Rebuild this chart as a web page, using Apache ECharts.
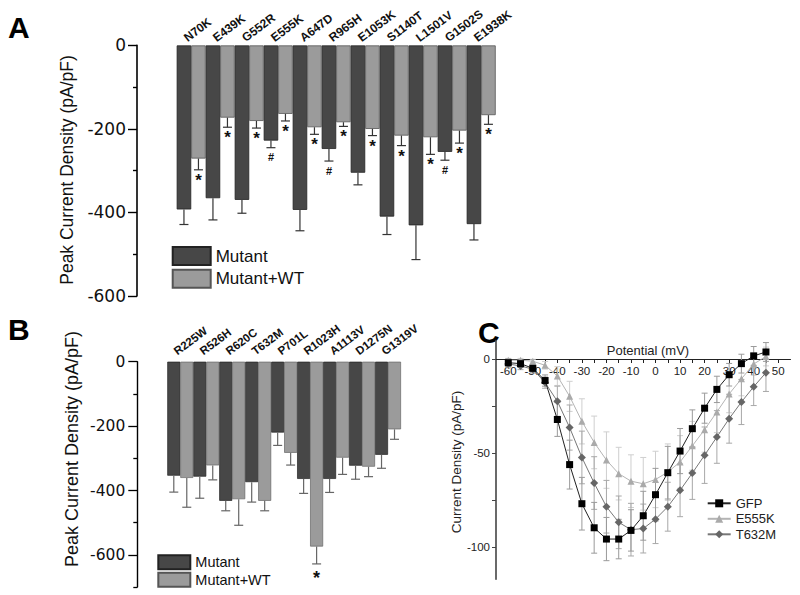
<!DOCTYPE html>
<html><head><meta charset="utf-8">
<script src="https://cdn.jsdelivr.net/npm/echarts@6/dist/echarts.min.js"></script>
<style>html,body{margin:0;padding:0;background:#fff}#c{width:800px;height:595px}</style>
</head><body><div id="c"></div><script>
// ---- Panel A ----
const catA = ['N70K','E439K','G552R','E555K','A647D','R965H','E1053K','S1140T','L1501V','G1502S','E1938K'];
const mutA = [-393,-366,-370,-228,-394,-248,-305,-410,-431,-255,-428];
const mutErrA = [36,52,32,17,50,29,29,43,82,20,38];
const wtA = [-271,-173,-181,-164,-196,-184,-200,-216,-220,-204,-167];
const wtErrA = [27,23,17,17,17,10,16,24,41,30,22];
const mutSigA = ['','','','#','','#','','','','#',''];
const wtSigA = ['*','*','*','*','*','*','*','*','*','*','*'];

// ---- Panel B ----
const catB = ['R225W','R526H','R620C','T632M','P701L','R1023H','A1113V','D1275N','G1319V'];
const mutB = [-354,-357,-432,-374,-220,-364,-364,-323,-289];
const mutErrB = [51,67,31,62,40,45,42,42,42];
const wtB = [-361,-322,-427,-432,-283,-574,-298,-326,-210];
const wtErrB = [91,45,81,31,38,54,52,31,31];
const mutSigB = ['','','','','','','','',''];
const wtSigB = ['','','','','','*','','',''];
const labelTicksB = [0,-200,-400,-600];
const minorTicksB = [-100,-300,-500,-700];

// ---- Panel C ----
const voltC = [-60,-55,-50,-45,-40,-35,-30,-25,-20,-15,-10,-5,0,5,10,15,20,25,30,35,40,45];
const gfpC = [-1.8,-2.3,-4.8,-11.3,-32,-56,-76.8,-89.6,-95.6,-95.6,-91,-83.2,-72,-60.3,-48.8,-36.9,-26,-16,-8.2,-2.3,1.8,3.9];
const gfpErrC = [2,2,2,3,9,13,14,13.5,11.5,10.5,11,13,14,14,12,10,8,7,6,5,5,5];
const e555kC = [-0.5,-0.5,-1,-3.2,-8.9,-19.7,-33,-44.2,-53.6,-60.8,-64.8,-66.2,-63.9,-60,-54.6,-46,-37.4,-28,-18.4,-10.4,-2.5,1.5];
const e555kErrC = [1,1,1,2,5,8,12,14,15,14,14,14,15,15,14,13,12,11,10,9,6,5];
const t632mC = [-2.5,-3.5,-5.3,-12.4,-22.3,-36.3,-52.2,-65.8,-78.4,-86.7,-90.6,-90,-85,-78.4,-69.7,-60.5,-51,-41.3,-31.6,-22.7,-14.6,-7.1];
const t632mErrC = [2,2,2,3,8,12,14,14,14,14,14,13,13,13,14,14,15,14,13,12,10,10];
const xTicksC = [-60,-55,-50,-45,-40,-35,-30,-25,-20,-15,-10,-5,0,5,10,15,20,25,30,35,40,45,50];
const xLabelsC = [-60,-50,-40,-30,-20,-10,0,10,20,30,40,50];
const yTicksC = [0,-25,-50,-75,-100];
const yLabelsC = [0,-50,-100];

const DARK = '#474747', LIGHT = '#9b9b9b';
const SANS = 'Liberation Sans, Arial, sans-serif';

function pairRows(mut, mutErr, wt, wtErr) {
  const rows = [];
  for (let i = 0; i < mut.length; i++) {
    rows.push([i, mut[i], mutErr[i], 0]);
    rows.push([i, wt[i], wtErr[i], 1]);
  }
  return rows;
}
function pairSigs(a, b) { const s = []; for (let i = 0; i < a.length; i++) { s.push(a[i]); s.push(b[i]); } return s; }

function makeBarErr(sigs, color, capW, sigFonts, sigGaps) {
  return function (params, api) {
    const i = api.value(0), v = api.value(1), e = api.value(2), side = api.value(3);
    const bw = api.size([1, 0])[0];
    const p = api.coord([i, v]);
    const x = p[0] + (side === 0 ? -bw / 4 : bw / 4);
    const y0 = p[1];
    const y1 = api.coord([i, v - e])[1];
    const children = [
      {type: 'line', shape: {x1: x, y1: y0, x2: x, y2: y1}, style: {stroke: color, lineWidth: 1.2}},
      {type: 'line', shape: {x1: x - capW / 2, y1: y1, x2: x + capW / 2, y2: y1}, style: {stroke: color, lineWidth: 1.2}}
    ];
    const s = sigs[params.dataIndex];
    if (s) {
      children.push({type: 'text', x: x, y: y1 + (s === '#' ? sigGaps[1] : sigGaps[0]),
        style: {text: s, fill: '#111', font: (s === '#' ? sigFonts[1] : sigFonts[0]),
          textAlign: 'center', textVerticalAlign: 'top', align: 'center', verticalAlign: 'top'}});
    }
    return {type: 'group', children: children};
  };
}

// category names written above the left (Mutant) bar of each pair, rotated
function makeCatLabels(cats, font, lift, shift) {
  return function (params, api) {
    const i = api.value(0);
    const bw = api.size([1, 0])[0];
    const p = api.coord([i, 0]);
    return {type: 'text', x: p[0] - bw / 4 + shift, y: p[1] - lift, rotation: 37 * Math.PI / 180,
      style: {text: cats[params.dataIndex], fill: '#111', font: font,
        textAlign: 'left', textVerticalAlign: 'bottom', align: 'left', verticalAlign: 'bottom'}};
  };
}

function makeLineErr(color) {
  return function (params, api) {
    const x = api.value(0), y = api.value(1), e = api.value(2);
    const t = api.coord([x, y + e]), b = api.coord([x, y - e]);
    const cw = 3;
    return {type: 'group', children: [
      {type: 'line', shape: {x1: t[0], y1: t[1], x2: b[0], y2: b[1]}, style: {stroke: color, lineWidth: 1}},
      {type: 'line', shape: {x1: t[0] - cw, y1: t[1], x2: t[0] + cw, y2: t[1]}, style: {stroke: color, lineWidth: 1}},
      {type: 'line', shape: {x1: b[0] - cw, y1: b[1], x2: b[0] + cw, y2: b[1]}, style: {stroke: color, lineWidth: 1}}
    ]};
  };
}
function errRows(xs, ys, es) { return xs.map((x, i) => [x, ys[i], es[i]]); }
function ptRows(xs, ys) { return xs.map((x, i) => [x, ys[i]]); }

const hiddenCat = (grid, data) => ({type: 'category', gridIndex: grid, position: 'top', data: data,
  axisLine: {show: false}, axisTick: {show: false}, axisLabel: {show: false}, splitLine: {show: false}});

const chart = echarts.init(document.getElementById('c'), null, {renderer: 'svg'});
const option = {
  animation: false,
  backgroundColor: '#fff',
  grid: [
    {left: 176.7, top: 45.4, width: 319, height: 250.5},
    {left: 167.3, top: 361.7, width: 233.7, height: 225.4},
    {left: 496, top: 340.5, width: 294.5, height: 238.8}
  ],
  xAxis: [
    hiddenCat(0, catA),
    hiddenCat(1, catB),
    {type: 'value', gridIndex: 2, min: -65, max: 55, position: 'bottom', offset: -220.3,
      axisLine: {onZero: false, lineStyle: {color: '#222', width: 1}},
      axisTick: {show: true, length: 4, customValues: xTicksC, lineStyle: {color: '#222'}},
      axisLabel: {customValues: xLabelsC, fontSize: 11.5, fontFamily: SANS, color: '#222', margin: 6},
      splitLine: {show: false}}
  ],
  yAxis: [
    {type: 'value', gridIndex: 0, position: 'left', min: -600, max: 0, interval: 200, offset: 39.7,
      axisLine: {show: true, onZero: false, lineStyle: {color: '#000', width: 1.6}},
      axisTick: {show: true, length: 9, lineStyle: {color: '#000', width: 1.4}},
      minorTick: {show: true, splitNumber: 2, length: 4, lineStyle: {color: '#000', width: 1.4}},
      axisLabel: {fontSize: 17, fontFamily: 'DejaVu Sans, sans-serif', color: '#111', margin: 11},
      splitLine: {show: false}, minorSplitLine: {show: false}},
    {type: 'value', gridIndex: 1, position: 'left', min: -700, max: 0, offset: 30,
      axisLine: {show: true, onZero: false, lineStyle: {color: '#000', width: 1.4}},
      axisTick: {show: true, length: 9, customValues: labelTicksB, lineStyle: {color: '#000', width: 1.3}},
      axisLabel: {customValues: labelTicksB, fontSize: 15.5, fontFamily: 'DejaVu Sans, sans-serif', color: '#111', margin: 12},
      splitLine: {show: false}},
    {type: 'value', gridIndex: 1, position: 'left', min: -700, max: 0, offset: 30,
      axisLine: {show: false, onZero: false},
      axisTick: {show: true, length: 4, customValues: minorTicksB, lineStyle: {color: '#000', width: 1.3}},
      axisLabel: {show: false}, splitLine: {show: false}},
    {type: 'value', gridIndex: 2, position: 'left', min: -117, max: 10,
      axisLine: {show: true, onZero: false, lineStyle: {color: '#444', width: 1.6}},
      axisTick: {show: true, length: 4, customValues: yTicksC, lineStyle: {color: '#444'}},
      axisLabel: {customValues: yLabelsC, fontSize: 11.5, fontFamily: SANS, color: '#222', margin: 6},
      splitLine: {show: false}}
  ],
  legend: [
    {data: ['Mutant', 'Mutant+WT'], orient: 'vertical', left: 171.7, top: 246, icon: 'rect', padding: 0,
      itemWidth: 38, itemHeight: 18, itemGap: 2.7, selectedMode: false,
      textStyle: {fontSize: 17, fontFamily: SANS, color: '#111'}},
    {data: ['Mutant', 'Mutant+WT'], orient: 'vertical', left: 157.3, top: 554.3, icon: 'rect', padding: 0,
      itemWidth: 32, itemHeight: 14, itemGap: 1.5, selectedMode: false,
      textStyle: {fontSize: 14.5, fontFamily: SANS, color: '#111'}},
    {data: ['GFP', 'E555K', 'T632M'], orient: 'vertical', left: 706.7, top: 496.8, padding: 0,
      itemWidth: 23, itemHeight: 10, itemGap: 2.5, selectedMode: false,
      textStyle: {fontSize: 13, fontFamily: SANS, color: '#222'}}
  ],
  graphic: [
    {type: 'text', x: 8, y: 12, style: {text: 'A', font: 'bold 30px ' + SANS, fill: '#000'}},
    {type: 'text', x: 8, y: 314, style: {text: 'B', font: 'bold 30px ' + SANS, fill: '#000'}},
    {type: 'text', x: 478, y: 317, style: {text: 'C', font: 'bold 30px ' + SANS, fill: '#000'}},
    {type: 'text', x: 66.7, y: 170, rotation: Math.PI / 2,
      style: {text: 'Peak Current Density (pA/pF)', font: '17.5px ' + SANS, fill: '#111',
        textAlign: 'center', textVerticalAlign: 'middle', align: 'center', verticalAlign: 'middle'}},
    {type: 'text', x: 71.7, y: 449, rotation: Math.PI / 2,
      style: {text: 'Peak Current Density (pA/pF)', font: '18px ' + SANS, fill: '#111',
        textAlign: 'center', textVerticalAlign: 'middle', align: 'center', verticalAlign: 'middle'}},
    {type: 'text', x: 456.7, y: 462, rotation: Math.PI / 2,
      style: {text: 'Current Density (pA/pF)', font: '13.5px ' + SANS, fill: '#222',
        textAlign: 'center', textVerticalAlign: 'middle', align: 'center', verticalAlign: 'middle'}},
    {type: 'text', x: 648, y: 350,
      style: {text: 'Potential (mV)', font: '13px ' + SANS, fill: '#222',
        textAlign: 'center', textVerticalAlign: 'middle', align: 'center', verticalAlign: 'middle'}}
  ],
  series: [
    {name: 'Mutant', type: 'bar', xAxisIndex: 0, yAxisIndex: 0, data: mutA, barGap: '0%', barCategoryGap: '0%',
      itemStyle: {color: DARK, borderColor: '#222', borderWidth: 0.8}},
    {name: 'Mutant+WT', type: 'bar', xAxisIndex: 0, yAxisIndex: 0, data: wtA, barGap: '0%', barCategoryGap: '0%',
      itemStyle: {color: LIGHT, borderColor: '#555', borderWidth: 0.8}},
    {type: 'custom', xAxisIndex: 0, yAxisIndex: 0, z: 5, silent: true,
      data: pairRows(mutA, mutErrA, wtA, wtErrA),
      renderItem: makeBarErr(pairSigs(mutSigA, wtSigA), '#333', 9, ['bold 17px ' + SANS, 'bold 11px ' + SANS], [2, 4])},
    {type: 'custom', xAxisIndex: 0, yAxisIndex: 0, z: 6, silent: true, clip: false,
      data: catA.map((c, i) => [i, 0]),
      renderItem: makeCatLabels(catA, 'bold 12px ' + SANS, 1.5, 5)},
    {name: 'Mutant', type: 'bar', xAxisIndex: 1, yAxisIndex: 1, data: mutB, barGap: '0%', barCategoryGap: '0%',
      itemStyle: {color: DARK, borderColor: '#222', borderWidth: 0.7}},
    {name: 'Mutant+WT', type: 'bar', xAxisIndex: 1, yAxisIndex: 1, data: wtB, barGap: '0%', barCategoryGap: '0%',
      itemStyle: {color: LIGHT, borderColor: '#666', borderWidth: 0.7}},
    {type: 'custom', xAxisIndex: 1, yAxisIndex: 1, z: 5, silent: true,
      data: pairRows(mutB, mutErrB, wtB, wtErrB),
      renderItem: makeBarErr(pairSigs(mutSigB, wtSigB), '#666', 9, ['bold 18px ' + SANS, 'bold 11px ' + SANS], [5, 4])},
    {type: 'custom', xAxisIndex: 1, yAxisIndex: 1, z: 6, silent: true, clip: false,
      data: catB.map((c, i) => [i, 0]),
      renderItem: makeCatLabels(catB, 'bold 11.5px ' + SANS, 4.5, 5)},
    {type: 'custom', xAxisIndex: 2, yAxisIndex: 3, z: 2, silent: true, data: errRows(voltC, e555kC, e555kErrC), renderItem: makeLineErr('#cfcfcf')},
    {type: 'custom', xAxisIndex: 2, yAxisIndex: 3, z: 2, silent: true, data: errRows(voltC, t632mC, t632mErrC), renderItem: makeLineErr('#a8a8a8')},
    {type: 'custom', xAxisIndex: 2, yAxisIndex: 3, z: 2, silent: true, data: errRows(voltC, gfpC, gfpErrC), renderItem: makeLineErr('#9a9a9a')},
    {name: 'E555K', type: 'line', xAxisIndex: 2, yAxisIndex: 3, z: 3, data: ptRows(voltC, e555kC),
      symbol: 'triangle', symbolSize: 7, lineStyle: {color: '#b4b4b4', width: 1}, itemStyle: {color: '#aaaaaa'}},
    {name: 'T632M', type: 'line', xAxisIndex: 2, yAxisIndex: 3, z: 4, data: ptRows(voltC, t632mC),
      symbol: 'diamond', symbolSize: 8, lineStyle: {color: '#777', width: 1}, itemStyle: {color: '#666666'}},
    {name: 'GFP', type: 'line', xAxisIndex: 2, yAxisIndex: 3, z: 5, data: ptRows(voltC, gfpC),
      symbol: 'rect', symbolSize: 7, lineStyle: {color: '#222', width: 1}, itemStyle: {color: '#000'}}
  ]
};
chart.setOption(option);
</script></body></html>
